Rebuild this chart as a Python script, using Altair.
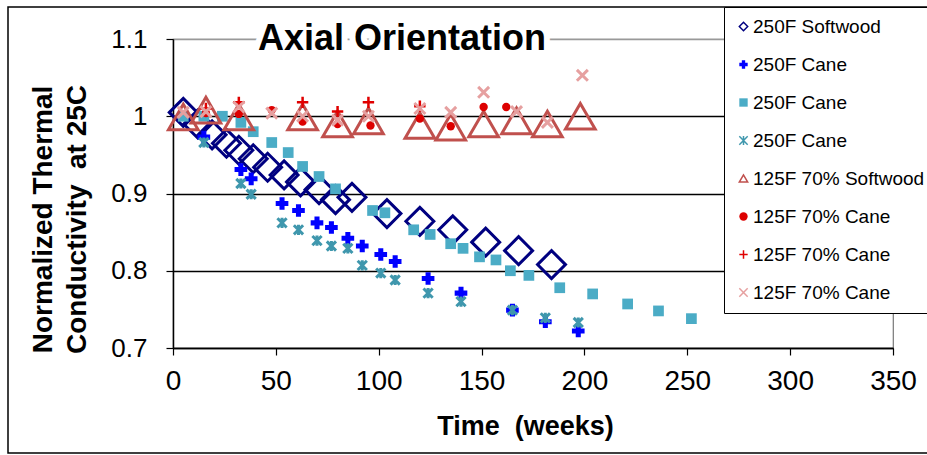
import altair as alt
import pandas as pd

FONT = "Liberation Sans"

# ---- data ----
series_keys = ["A", "B", "C", "D", "E", "F", "G", "H"]
series_labels = ["250F Softwood", "250F Cane", "250F Cane", "250F Cane",
                 "125F 70% Softwood", "125F 70% Cane", "125F 70% Cane", "125F 70% Cane"]

sw250_x = [5, 12, 19, 26, 32, 39, 46, 54, 62, 71, 79, 87, 104, 120, 136, 152, 168, 184]
sw250_y = [1.005, 0.990, 0.976, 0.965, 0.956, 0.945, 0.934, 0.924, 0.915, 0.905, 0.892, 0.895,
           0.874, 0.864, 0.853, 0.837, 0.826, 0.808]

caneB_x = [15, 33, 38, 53, 61, 70, 77, 85, 92, 101, 108, 124, 140, 165, 181, 197]
caneB_y = [0.973, 0.931, 0.919, 0.887, 0.878, 0.862, 0.856, 0.842, 0.832, 0.821, 0.812,
           0.790, 0.771, 0.749, 0.734, 0.722]

caneC_x = [5, 15, 24, 33, 39, 48, 56, 63, 71, 79, 97, 103, 117, 125, 135, 141, 149, 157,
           164, 173, 188, 204, 221, 236, 252]
caneC_y = [1.0, 1.0, 1.0, 0.992, 0.980, 0.966, 0.953, 0.935, 0.922, 0.906, 0.878, 0.875,
           0.853, 0.847, 0.835, 0.829, 0.818, 0.814, 0.800, 0.794, 0.778, 0.770, 0.757,
           0.748, 0.738]

caneD_x = [15, 33, 38, 53, 61, 70, 77, 85, 92, 101, 108, 124, 140, 165, 181, 197]
caneD_y = [0.966, 0.913, 0.899, 0.862, 0.853, 0.839, 0.832, 0.829, 0.807, 0.797, 0.788,
           0.771, 0.760, 0.749, 0.739, 0.733]

sw125_x = [5, 16, 32, 63, 80, 95, 120, 135, 151, 167, 182, 198]
sw125_y = [0.999, 1.008, 0.999, 0.999, 0.990, 0.994, 0.988, 0.986, 0.990, 0.994, 0.990, 1.0]

caneF_x = [16, 32, 48, 63, 80, 96, 120, 135, 151, 162]
caneF_y = [1.004, 1.003, 1.008, 0.993, 0.990, 0.988, 0.997, 0.987, 1.012, 1.012]

caneG_x = [16, 32, 63, 80, 95, 120]
caneG_y = [1.010, 1.018, 1.018, 1.006, 1.018, 1.013]

caneH_x = [5, 16, 32, 48, 63, 80, 95, 120, 135, 151, 167, 182, 199]
caneH_y = [1.005, 1.006, 1.012, 1.004, 1.000, 0.995, 1.000, 1.010, 1.005, 1.031, 1.006,
           0.992, 1.053]

x_ticks = [0, 50, 100, 150, 200, 250, 300, 350]
y_ticks = [0.7, 0.8, 0.9, 1.0, 1.1]

# ---- styles ----
ASTER = "M-1,-1L1,1M-1,1L1,-1M0,-1.1L0,1.1"
PLUS = "M-1,0L1,0M0,-1L0,1"
XMARK = "M-1,-1L1,1M-1,1L1,-1"
fills = ["transparent", "#0000FF", "#4BACC6", "transparent", "transparent", "#DD0000",
         "transparent", "transparent"]
strokes = ["#000080", "transparent", "transparent", "#3F97AD", "#C0504D", "transparent",
           "#E00000", "#E6A0A0"]
shapes = ["diamond", "cross", "square", ASTER, "triangle-up", "circle", PLUS, XMARK]
sizes = [780, 160, 115, 85, 880, 70, 130, 120]
widths = [3, 0, 0, 3, 3, 0, 2.5, 3]

all_x = [sw250_x, caneB_x, caneC_x, caneD_x, sw125_x, caneF_x, caneG_x, caneH_x]
all_y = [sw250_y, caneB_y, caneC_y, caneD_y, sw125_y, caneF_y, caneG_y, caneH_y]

rows = []
for k, xs, ys, sz, sw in zip(series_keys, all_x, all_y, sizes, widths):
    for xv, yv in zip(xs, ys):
        rows.append({"series": k, "weeks": xv, "k": yv, "sz": sz, "sw": sw})
df = pd.DataFrame(rows)

label_expr = "''"
for k, lab in reversed(list(zip(series_keys, series_labels))):
    label_expr = f"datum.label == '{k}' ? '{lab}' : ({label_expr})"

legend = alt.Legend(
    orient="none", legendX=551, legendY=-32, title=None,
    fillColor="white", strokeColor="#000000",
    padding=10, rowPadding=18, labelFontSize=19, labelFont=FONT, labelColor="#000000",
    symbolSize=70, symbolStrokeWidth=1.5, labelOffset=0, labelExpr=label_expr,
    cornerRadius=0, labelLimit=400,
)

base_x = alt.X("weeks:Q", scale=alt.Scale(domain=[0, 350], nice=False),
               axis=alt.Axis(values=x_ticks, title="Time \u00a0(weeks)", grid=False,
                             tickSize=7, tickColor="#000", domainColor="#000", domainWidth=1.5,
                             tickWidth=1.2, labelFontSize=28, labelPadding=12, labelFlush=False,
                             labelFont=FONT, labelColor="#000", titleFont=FONT,
                             titleFontSize=27, titleFontWeight="bold", titleColor="#000",
                             titlePadding=18, titleX=352))
base_y = alt.Y("k:Q", scale=alt.Scale(domain=[0.7, 1.1], nice=False, zero=False),
               axis=alt.Axis(values=y_ticks, format=".1~f",
                             title=["Normalized Thermal", "Conductivity \u00a0at 25C"],
                             grid=True, gridWidth=1.5,
                             gridColor={"condition": {"test": "datum.value > 1.05", "value": "#999999"},
                                        "value": "#000000"},
                             tickSize=7, tickColor="#000", domainColor="#000", domainWidth=1.5,
                             tickWidth=1.2, labelFontSize=26, labelPadding=19,
                             labelFont=FONT, labelColor="#000", titleFont=FONT,
                             titleFontSize=28, titleFontWeight="bold", titleColor="#000",
                             titleLineHeight=34, titlePadding=19, titleY=180))

points = alt.Chart(df).mark_point(opacity=1).encode(
    x=base_x,
    y=base_y,
    fill=alt.Fill("series:N", scale=alt.Scale(domain=series_keys, range=fills), legend=legend),
    stroke=alt.Stroke("series:N", scale=alt.Scale(domain=series_keys, range=strokes), legend=legend),
    shape=alt.Shape("series:N", scale=alt.Scale(domain=series_keys, range=shapes), legend=legend),
    size=alt.Size("sz:Q", scale=None),
    strokeWidth=alt.StrokeWidth("sw:Q", scale=None),
    order=alt.Order("idx:Q"),
).transform_window(idx="row_number()")

title_data = alt.Data(values=[{"t": "Axial Orientation"}])
halo = alt.Chart(title_data).mark_text(
    font=FONT, fontSize=36, fontWeight="bold", stroke="white", strokeWidth=12,
    fill="white", align="center", baseline="middle"
).encode(x=alt.value(229), y=alt.value(0), text="t:N")
title_txt = alt.Chart(title_data).mark_text(
    font=FONT, fontSize=36, fontWeight="bold", color="#000", align="center", baseline="middle"
).encode(x=alt.value(229), y=alt.value(0), text="t:N")

frame = alt.Chart(alt.Data(values=[{"a": 1}])).mark_rect(
    fill="transparent", stroke="#000000", strokeWidth=1.5
).encode(x=alt.value(-165), x2=alt.value(770), y=alt.value(-32), y2=alt.value(414))

chart = alt.layer(points, halo, title_txt, frame).properties(
    width=720, height=309,
    autosize=alt.AutoSizeParams(type="none"),
    padding={"left": 173, "top": 39, "right": 34, "bottom": 107},
    background="white",
).configure_view(stroke="#777777", strokeWidth=1.2)

chart.save("out.html", embed_options={"renderer": "svg", "actions": False})
